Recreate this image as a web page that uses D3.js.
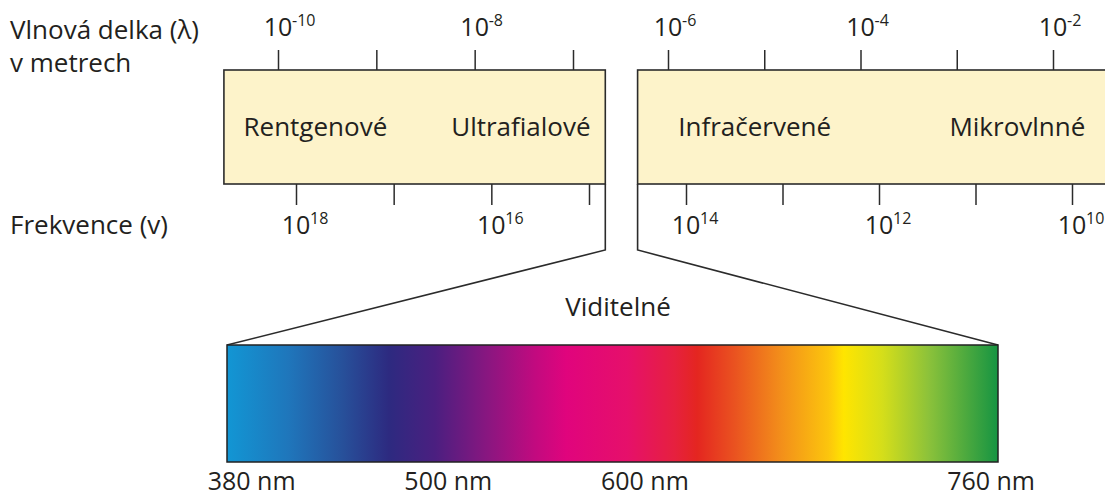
<!DOCTYPE html>
<html>
<head>
<meta charset="utf-8">
<script src="https://cdn.jsdelivr.net/npm/d3@7"></script>
<style>
  body { margin: 0; background: #fff; }
  svg { display: block; }
  text { font-family: "Open Sans", sans-serif; fill: #231f20; }
  .tick line { stroke: #2b2b2b; stroke-width: 1.5; }
</style>
</head>
<body>
<div id="chart"></div>
<script>
// ── Data ──
const waveTicks  = [-10, -9, -8, -7, -6, -5, -4, -3, -2];   // log10 λ [m]
const waveLabels = [-10, -8, -6, -4, -2];
const freqTicks  = [18, 17, 16, 15, 14, 13, 12, 11, 10];    // log10 ν [Hz]
const freqLabels = [18, 16, 14, 12, 10];
const bandNames   = ["Rentgenové", "Ultrafialové", "Infračervené", "Mikrovlnné"];
const bandCenters = [-9.62, -7.53, -5.1, -2.37];             // log10 λ
const panelNames = ["left", "right"];
const panelFrom  = [-10.55, -6.32];
const panelTo    = [-6.66, -1.3];
const nmValues = [380, 500, 600, 760];
const nmLabels = ["380 nm", "500 nm", "600 nm", "760 nm"];
const specStops  = [0, 0.08, 0.15, 0.21, 0.27, 0.34, 0.40, 0.44, 0.52, 0.58, 0.61, 0.66, 0.72, 0.78, 0.80, 0.85, 0.91, 1];
const specColors = ["#1296d4", "#1f76bb", "#27509a", "#2d2a80", "#4b1f80", "#8b1680", "#c20a7f", "#e0047d",
                    "#e6106a", "#e6203f", "#e42620", "#ea5420", "#f3901a", "#fcc50d", "#ffe500", "#d5de1a",
                    "#8cc23a", "#169442"];

const W = 1105, H = 499;
const boxTop = 70, boxBot = 184;
const spec = { x0: 227, x1: 998, y0: 345, y1: 462 };

const svg = d3.select("#chart").append("svg").attr("width", W).attr("height", H);

// ── Scales ──
const xWave = d3.scaleLinear().domain([-10, -7, -6, -2]).range([278, 573, 668, 1053]);
const xFreq = d3.scaleLinear().domain([18, 15, 14, 10]).range([296, 589, 686, 1072]);
const xNm = d3.scaleLinear().domain(nmValues)
    .range([0.032, 0.287, 0.542, 0.991].map(f => spec.x0 + f * (spec.x1 - spec.x0)));

// ── Axis titles ──
const titles = svg.append("g").attr("font-size", 26);
titles.append("text").attr("x", 10).attr("y", 39).text("Vlnová delka (λ)");
titles.append("text").attr("x", 10).attr("y", 72).text("v metrech");
titles.append("text").attr("x", 10).attr("y", 234).text("Frekvence (v)");

// ── Panels (boxes) ──
svg.append("g").selectAll("rect")
  .data(panelNames)
  .join("rect")
    .attr("x", (d, i) => xWave(panelFrom[i]))
    .attr("y", boxTop)
    .attr("width", (d, i) => xWave(panelTo[i]) - xWave(panelFrom[i]))
    .attr("height", boxBot - boxTop)
    .attr("fill", "#fdf3ca")
    .attr("stroke", "#2b2b2b")
    .attr("stroke-width", 1.6);

// ── Ticks ──
const topAxis = svg.append("g").attr("transform", `translate(0,${boxTop})`)
  .call(d3.axisTop(xWave).tickValues(waveTicks).tickSize(20).tickFormat(""));
topAxis.select(".domain").remove();

const botAxis = svg.append("g").attr("transform", `translate(0,${boxBot})`)
  .call(d3.axisBottom(xFreq).tickValues(freqTicks).tickSize(21).tickFormat(""));
botAxis.select(".domain").remove();

function power(sel, scale, values, y) {
  const t = sel.selectAll("g.pw").data(values).join("g").attr("class", "pw")
    .attr("transform", d => `translate(${scale(d)},${y})`);
  t.append("text").attr("text-anchor", "middle").attr("font-size", 25).text("10");
  t.append("text").attr("x", 14).attr("y", -10).attr("font-size", 16).text(d => d);
}
power(svg.append("g"), xWave, waveLabels, 36);
power(svg.append("g"), xFreq, freqLabels, 234);

// ── Band names ──
svg.append("g").selectAll("text")
  .data(bandNames)
  .join("text")
    .attr("x", (d, i) => xWave(bandCenters[i]))
    .attr("y", 136)
    .attr("text-anchor", "middle")
    .attr("font-size", 26)
    .text(d => d);

// ── Connector lines ──
const leftEdge = xWave(panelTo[0]), rightEdge = xWave(panelFrom[1]);
svg.append("path")
  .attr("d", `M${leftEdge},${boxBot}V250L${spec.x0},${spec.y0}`)
  .attr("fill", "none").attr("stroke", "#2b2b2b").attr("stroke-width", 1.6);
svg.append("path")
  .attr("d", `M${rightEdge},${boxBot}V250L${spec.x1},${spec.y0}`)
  .attr("fill", "none").attr("stroke", "#2b2b2b").attr("stroke-width", 1.6);

svg.append("text")
  .attr("x", 618).attr("y", 316)
  .attr("text-anchor", "middle").attr("font-size", 26)
  .text("Viditelné");

// ── Visible spectrum ──
const grad = svg.append("defs").append("linearGradient").attr("id", "spectrum");
grad.selectAll("stop").data(specStops).join("stop")
  .attr("offset", d => d)
  .attr("stop-color", (d, i) => specColors[i]);

svg.append("rect")
  .attr("x", spec.x0).attr("y", spec.y0)
  .attr("width", spec.x1 - spec.x0).attr("height", spec.y1 - spec.y0)
  .attr("fill", "url(#spectrum)")
  .attr("stroke", "#222").attr("stroke-width", 1.5);

svg.append("g").selectAll("text")
  .data(nmValues)
  .join("text")
    .attr("x", d => xNm(d))
    .attr("y", 490)
    .attr("text-anchor", "middle")
    .attr("font-size", 25)
    .text((d, i) => nmLabels[i]);
</script>
</body>
</html>
